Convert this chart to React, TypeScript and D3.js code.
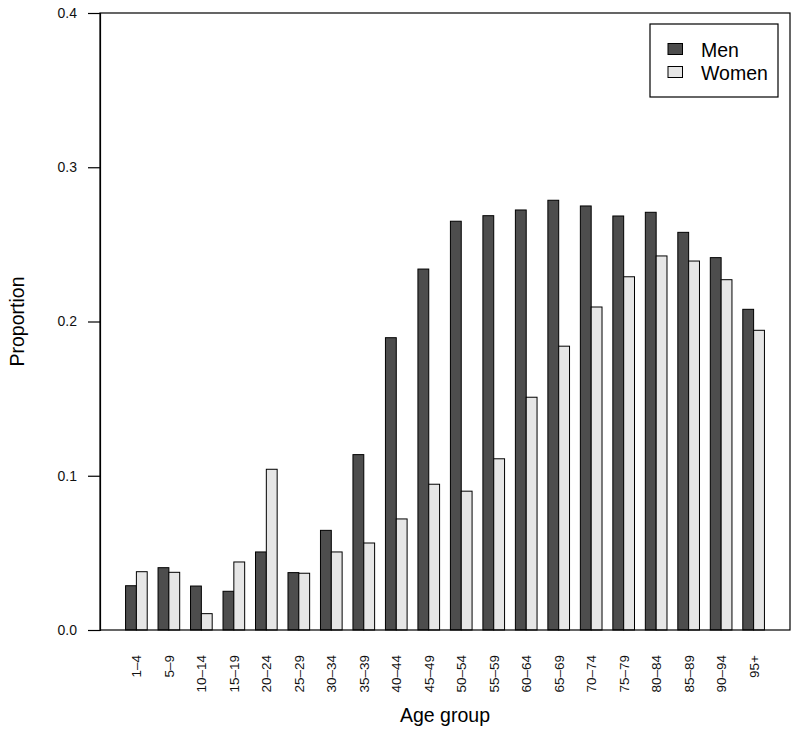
import React, { useEffect, useRef } from 'react';
import * as d3 from 'd3';

const ageGroups = [
  '1–4', '5–9', '10–14', '15–19', '20–24', '25–29', '30–34', '35–39', '40–44', '45–49',
  '50–54', '55–59', '60–64', '65–69', '70–74', '75–79', '80–84', '85–89', '90–94', '95+',
];
const men = [
  0.0287, 0.0404, 0.0285, 0.0251, 0.0506, 0.0372, 0.0646, 0.1137, 0.1895, 0.234,
  0.265, 0.2686, 0.2723, 0.2786, 0.2749, 0.2684, 0.2708, 0.2578, 0.2414, 0.2079,
];
const women = [
  0.0378, 0.0374, 0.0106, 0.0441, 0.1042, 0.0368, 0.0506, 0.0564, 0.072, 0.0945,
  0.09, 0.111, 0.1509, 0.184, 0.2094, 0.229, 0.2425, 0.2392, 0.2271, 0.1943,
];
const seriesNames = ['Men', 'Women'];
const seriesColors = ['#4d4d4d', '#e6e6e6'];
const yTicks = [0, 0.1, 0.2, 0.3, 0.4];

const FONT = '"Liberation Sans", Arial, Helvetica, sans-serif';

const App = () => {
  const svgRef = useRef<SVGSVGElement>(null);

  useEffect(() => {
    const width = 800;
    const height = 733;
    const left = 100, right = 790, top = 13, bottom = 630;

    const svg = d3.select(svgRef.current).attr('width', width).attr('height', height);
    svg.selectAll('*').remove();

    // groups: 2 bars of width 1 with a gap of 1 between groups (R barplot beside=TRUE)
    const x = d3
      .scaleBand<string>()
      .domain(ageGroups)
      .range([left, right])
      .paddingInner(1 / 3)
      .paddingOuter(2.36 / 3);
    const xs = d3.scaleBand<string>().domain(seriesNames).range([0, x.bandwidth()]);
    const y = d3.scaleLinear().domain([0, 0.4]).range([bottom, top]);

    const rows = ageGroups.map((g, i) => ({ group: g, values: [men[i], women[i]] }));

    const groups = svg
      .selectAll('.grp')
      .data(rows)
      .enter()
      .append('g')
      .attr('class', 'grp')
      .attr('transform', (d) => `translate(${x(d.group)},0)`);

    groups
      .selectAll('rect')
      .data((d) => d.values.map((v, j) => ({ name: seriesNames[j], v, j })))
      .enter()
      .append('rect')
      .attr('x', (d) => xs(d.name)!)
      .attr('y', (d) => y(d.v))
      .attr('width', xs.bandwidth())
      .attr('height', (d) => y(0) - y(d.v))
      .attr('fill', (d) => seriesColors[d.j])
      .attr('stroke', '#000')
      .attr('stroke-width', 1);

    // plot box
    svg
      .append('rect')
      .attr('x', left)
      .attr('y', top)
      .attr('width', right - left)
      .attr('height', bottom - top)
      .attr('fill', 'none')
      .attr('stroke', '#000')
      .attr('stroke-width', 1.2);

    // y axis
    const yAxis = svg
      .append('g')
      .attr('transform', `translate(${left},0)`)
      .call(d3.axisLeft(y).tickValues(yTicks).tickFormat(d3.format('.1f')).tickSize(12).tickPadding(11));
    yAxis.select('.domain').attr('stroke', '#000').attr('stroke-width', 1.2);
    yAxis.selectAll('line').attr('stroke', '#000').attr('stroke-width', 1.2);
    yAxis
      .selectAll('text')
      .attr('font-family', FONT)
      .attr('font-size', 14)
      .attr('fill', '#111');

    // x tick labels (rotated)
    svg
      .append('g')
      .selectAll('text')
      .data(ageGroups)
      .enter()
      .append('text')
      .attr('transform', (d) => `translate(${x(d)! + x.bandwidth() / 2 + 5},655) rotate(-90)`)
      .attr('text-anchor', 'end')
      .attr('font-family', FONT)
      .attr('font-size', 13.5)
      .attr('fill', '#111')
      .text((d) => d);

    // axis titles
    svg
      .append('text')
      .attr('x', (left + right) / 2)
      .attr('y', 722)
      .attr('text-anchor', 'middle')
      .attr('font-family', FONT)
      .attr('font-size', 19.5)
      .text('Age group');

    svg
      .append('text')
      .attr('transform', `translate(24,${(top + bottom) / 2}) rotate(-90)`)
      .attr('text-anchor', 'middle')
      .attr('font-family', FONT)
      .attr('font-size', 19.5)
      .text('Proportion');

    // legend
    const legend = svg.append('g');
    legend
      .append('rect')
      .attr('x', 650)
      .attr('y', 24)
      .attr('width', 128)
      .attr('height', 73)
      .attr('fill', '#fff')
      .attr('stroke', '#000')
      .attr('stroke-width', 1.2);
    const items = legend
      .selectAll('.item')
      .data(seriesNames)
      .enter()
      .append('g')
      .attr('class', 'item')
      .attr('transform', (d, i) => `translate(0,${i * 23})`);
    items
      .append('rect')
      .attr('x', 668)
      .attr('y', 43.5)
      .attr('width', 14.5)
      .attr('height', 11)
      .attr('fill', (d, i) => seriesColors[i])
      .attr('stroke', '#000');
    items
      .append('text')
      .attr('x', 701)
      .attr('y', 57)
      .attr('font-family', FONT)
      .attr('font-size', 19.5)
      .text((d) => d);
  }, []);

  return <svg ref={svgRef} style={{ position: 'absolute', left: 0, top: 0 }} />;
};

export default App;
